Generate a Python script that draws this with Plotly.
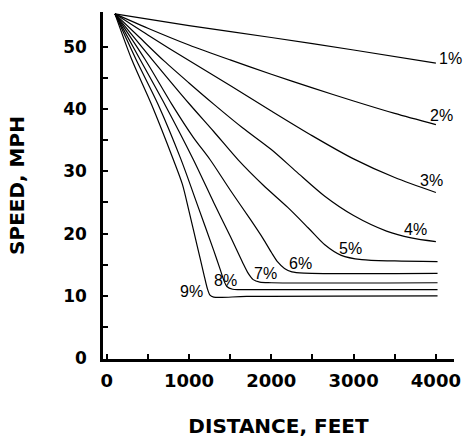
import plotly.graph_objects as go

grades = ["1%", "2%", "3%", "4%", "5%", "6%", "7%", "8%", "9%"]

dist_1 = [100, 1000, 2000, 3000, 4000]
speed_1 = [55.3, 53.4, 51.5, 49.5, 47.4]

dist_2 = [100, 500, 1000, 1500, 2000, 2500, 3000, 3500, 4000]
speed_2 = [55.3, 53.0, 50.3, 47.9, 45.6, 43.4, 41.3, 39.3, 37.5]

dist_3 = [100, 500, 1000, 1500, 2000, 2500, 3000, 3500, 4000]
speed_3 = [55.3, 51.9, 47.8, 43.8, 39.7, 35.7, 32.0, 29.0, 26.6]

dist_4 = [100, 400, 700, 1000, 1300, 1650, 2000, 2300, 2650, 3000, 3400, 3700, 4000]
speed_4 = [55.3, 51.5, 47.7, 44.2, 40.8, 37.0, 33.5, 30.0, 26.0, 22.9, 20.4, 19.3, 18.7]

dist_5 = [100, 550, 1000, 1300, 1600, 1900, 2200, 2450, 2650, 2850, 3100, 3500, 4020]
speed_5 = [55.3, 48.0, 40.9, 36.4, 31.8, 27.8, 24.2, 20.9, 18.2, 16.5, 15.8, 15.6, 15.5]

dist_6 = [100, 465, 790, 1050, 1255, 1500, 1750, 1900, 2000, 2080, 2160, 2250, 2400, 4020]
speed_6 = [55.3, 48.0, 40.8, 35.5, 31.9, 27.0, 22.2, 19.2, 17.0, 15.4, 14.4, 13.85, 13.65, 13.6]

dist_7 = [100, 404, 708, 1052, 1300, 1500, 1650, 1720, 1780, 1860, 2000, 4020]
speed_7 = [55.3, 48.0, 40.7, 31.9, 25.0, 19.6, 15.4, 13.6, 12.6, 12.2, 12.1, 12.1]

dist_8 = [100, 355, 626, 900, 1100, 1300, 1380, 1420, 1460, 1530, 1650, 4020]
speed_8 = [55.3, 48.0, 40.7, 32.0, 24.7, 17.3, 14.2, 12.6, 11.5, 11.05, 11.0, 11.0]

dist_9 = [100, 303, 546, 809, 920, 1000, 1100, 1180, 1220, 1255, 1300, 1400, 1700, 4020]
speed_9 = [55.3, 48.0, 40.7, 31.9, 27.9, 23.6, 18.0, 13.5, 11.3, 10.1, 9.8, 9.75, 9.9, 10.0]

label_x = [4174, 4070, 3951, 3748, 2958, 2360, 1924, 1447, 1032]
label_y = [48.1, 38.95, 28.6, 20.6, 17.65, 15.15, 13.6, 12.5, 10.7]

x_tick_vals = [0, 500, 1000, 1500, 2000, 2500, 3000, 3500, 4000]
x_tick_text = ["0", "", "1000", "", "2000", "", "3000", "", "4000"]
y_tick_vals = [0, 5, 10, 15, 20, 25, 30, 35, 40, 45, 50]
y_tick_text = ["0", "", "10", "", "20", "", "30", "", "40", "", "50"]

series = [
    (dist_1, speed_1), (dist_2, speed_2), (dist_3, speed_3),
    (dist_4, speed_4), (dist_5, speed_5), (dist_6, speed_6),
    (dist_7, speed_7), (dist_8, speed_8), (dist_9, speed_9),
]

fig = go.Figure()
for name, (xs, ys) in zip(grades, series):
    fig.add_trace(go.Scatter(
        x=xs, y=ys, mode="lines", name=name,
        line=dict(color="black", width=1.2, shape="spline", smoothing=0.8),
        showlegend=False, hoverinfo="skip",
    ))

for name, lx, ly in zip(grades, label_x, label_y):
    fig.add_annotation(
        x=lx, y=ly, text=name, showarrow=False,
        font=dict(family="Liberation Sans, Arial, sans-serif", size=16, color="black"),
    )

bold = "DejaVu Sans, sans-serif"

fig.update_layout(
    template="none",
    width=470, height=438,
    margin=dict(l=103, r=16, t=12, b=79),
    paper_bgcolor="white", plot_bgcolor="white",
    xaxis=dict(
        automargin=False,
        range=[-45, 4220], tickmode="array", tickvals=x_tick_vals, ticktext=x_tick_text,
        ticks="inside", ticklen=5, tickwidth=1.5, tickcolor="black",
        showline=True, linewidth=2.5, linecolor="black", showgrid=False, zeroline=False,
        tickfont=dict(family=bold, size=18, color="black", weight="bold"),
        title=dict(text="DISTANCE, FEET", standoff=32,
                   font=dict(family=bold, size=20, color="black", weight="bold")),
        ticklabelstandoff=4,
    ),
    yaxis=dict(
        automargin=False,
        range=[-0.15, 55.6], tickmode="array", tickvals=y_tick_vals, ticktext=y_tick_text,
        ticks="inside", ticklen=5, tickwidth=1.5, tickcolor="black",
        showline=True, linewidth=2.5, linecolor="black", showgrid=False, zeroline=False,
        tickfont=dict(family=bold, size=17, color="black", weight="bold"),
        title=dict(text="SPEED, MPH", standoff=34,
                   font=dict(family=bold, size=20, color="black", weight="bold")),
        ticklabelstandoff=10,
    ),
)

fig.write_html("out.html")
